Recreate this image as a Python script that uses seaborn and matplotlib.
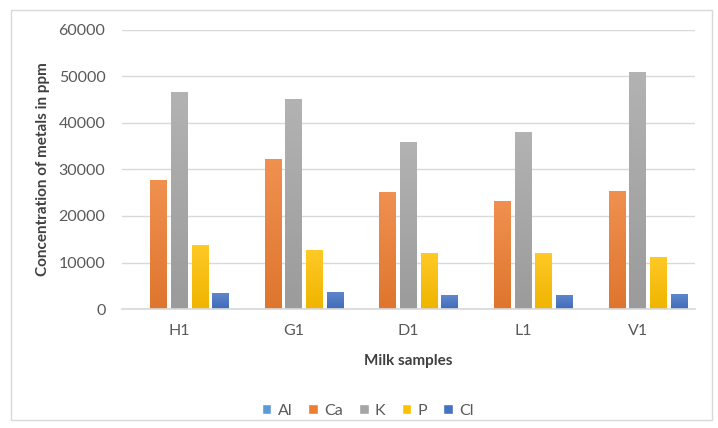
import numpy as np
import pandas as pd
import matplotlib
matplotlib.use("Agg")
import matplotlib.pyplot as plt
import matplotlib.colors as mcolors
from matplotlib.patches import Rectangle
import seaborn as sns

# values (ppm)
samples = ["H1", "G1", "D1", "L1", "V1"]
metals = ["Al", "Ca", "K", "P", "Cl"]
al = [50, 50, 50, 50, 50]
ca = [27700, 32200, 25100, 23200, 25400]
k = [46600, 45200, 35900, 38100, 51000]
p = [13800, 12600, 12000, 12000, 11200]
cl = [3500, 3700, 3000, 3100, 3200]
yticks = [0, 10000, 20000, 30000, 40000, 50000, 60000]

colors = ["#5B9BD5", "#ED7D31", "#A5A5A5", "#FFC000", "#4472C4"]

df = pd.DataFrame({"sample": samples * 5,
                   "metal": np.repeat(metals, 5),
                   "value": al + ca + k + p + cl})

sns.set_theme(style="white")
plt.rcParams["font.family"] = ["Lato", "DejaVu Sans"]

fig = plt.figure(figsize=(7.18, 4.28), dpi=100)
ax = fig.add_axes([0.17, 0.278, 0.798, 0.652])

sns.barplot(data=df, x="sample", y="value", hue="metal", hue_order=metals,
            order=samples, palette=colors, width=0.9, gap=0.18,
            saturation=1, errorbar=None, ax=ax)

ax.set_ylim(0, 60000)
ax.set_xlim(-0.5, 4.5)
ax.set_yticks(yticks)
ax.set_yticklabels([str(v) for v in yticks])
ax.yaxis.grid(True, color="#D9D9D9", linewidth=1)
ax.set_axisbelow(True)
for s in ["top", "right", "left"]:
    ax.spines[s].set_visible(False)
ax.spines["bottom"].set_color("#D9D9D9")
ax.tick_params(axis="both", length=0, labelsize=11.5, colors="#595959")
ax.tick_params(axis="y", pad=12)
ax.tick_params(axis="x", pad=11)

ax.set_xlabel("Milk samples", fontsize=11, fontweight="bold", color="#404040", labelpad=11)
ax.set_ylabel("Concentration of metals in ppm", fontsize=11, fontweight="bold",
              color="#404040", labelpad=6)

# soft vertical gradient on the bars, like the office fill
for patch in list(ax.patches):
    h = patch.get_height()
    if h <= 0:
        continue
    x0, w = patch.get_x(), patch.get_width()
    base = np.array(mcolors.to_rgb(patch.get_facecolor()))
    top = base + (1 - base) * 0.15
    bottom = base * 0.94
    grad = np.linspace(0, 1, 64)[:, None]
    img = top[None, None, :] * (1 - grad[..., None]) + bottom[None, None, :] * grad[..., None]
    im = ax.imshow(img, extent=[x0, x0 + w, 0, h], aspect="auto", origin="upper", zorder=2)
    im.set_clip_path(patch)
    patch.set_alpha(0)

ax.set_ylim(0, 60000)
ax.set_xlim(-0.5, 4.5)

handles, labels = ax.get_legend_handles_labels()
for hd in handles:
    hd.set_alpha(1)
ax.legend_.remove() if ax.legend_ else None
fig.legend(handles, labels, loc="center", bbox_to_anchor=(0.512, 0.04), ncol=5,
           frameon=False, fontsize=11.5, handlelength=0.6, handleheight=0.6,
           handletextpad=0.4, columnspacing=1.0, labelcolor="#595959")

# outer chart border
fig.patches.append(Rectangle((0.016, 0.018), 0.976, 0.958, transform=fig.transFigure,
                             fill=False, edgecolor="#D9D9D9", linewidth=1))

fig.savefig("out.png", dpi=100)
